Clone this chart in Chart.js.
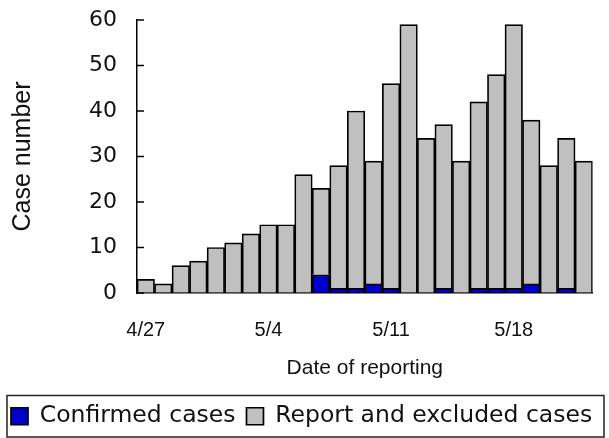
<!DOCTYPE html>
<html>
<head>
<meta charset="utf-8">
<script src="https://cdn.jsdelivr.net/npm/chart.js@4"></script>
<style>
  html, body { margin: 0; padding: 0; background: #fff; }
  #wrap { width: 609px; height: 438px; }
</style>
</head>
<body>
<div id="wrap"><canvas id="c" width="609" height="438"></canvas></div>
<script>
const categories = ["4/27","4/28","4/29","4/30","5/1","5/2","5/3","5/4","5/5","5/6","5/7","5/8","5/9","5/10",
  "5/11","5/12","5/13","5/14","5/15","5/16","5/17","5/18","5/19","5/20","5/21","5/22"];
const confirmed = [0,0,0,0,0,0,0,0,0,0,4,1,1,2,1,0,0,1,0,1,1,1,2,0,1,0];
const excluded  = [3,2,6,7,10,11,13,15,15,26,19,27,39,27,45,59,34,36,29,41,47,58,36,28,33,29];
const tickLabels = ["4/27","5/4","5/11","5/18"];
const yTicks = [0,10,20,30,40,50,60];

const innerTicks = {
  id: 'innerTicks',
  afterDraw(chart) {
    const ctx = chart.ctx, y = chart.scales.y, a = chart.chartArea;
    ctx.save();
    ctx.strokeStyle = '#000';
    ctx.lineWidth = 1.5;
    y.ticks.forEach(t => {
      const py = y.getPixelForValue(t.value);
      ctx.beginPath();
      ctx.moveTo(a.left, py);
      ctx.lineTo(a.left + 7, py);
      ctx.stroke();
    });
    ctx.lineWidth = 1.5;
    ctx.strokeStyle = '#222';
    ctx.strokeRect(7, 395.5, 597, 41.5);
    ctx.restore();
  }
};

new Chart(document.getElementById('c'), {
  type: 'bar',
  data: {
    labels: categories,
    datasets: [
      { label: 'Confirmed cases', data: confirmed, backgroundColor: '#0000CC', borderColor: '#000', borderWidth: 1.7 },
      { label: 'Report and excluded cases', data: excluded, backgroundColor: '#C0C0C0', borderColor: '#000', borderWidth: 1.7 }
    ]
  },
  options: {
    responsive: false,
    animation: false,
    devicePixelRatio: 1,
    layout: { padding: { top: 20, right: 0, bottom: 0, left: 0 } },
    plugins: {
      tooltip: { enabled: false },
      legend: {
        position: 'bottom',
        align: 'start',
        labels: {
          font: { family: 'DejaVu Sans', size: 23.5 },
          color: '#111',
          boxWidth: 17,
          boxHeight: 17,
          padding: 11
        }
      }
    },
    datasets: { bar: { barPercentage: 1, categoryPercentage: 1 } },
    scales: {
      x: {
        stacked: true,
        grid: { display: false, drawTicks: false },
        border: { display: true, color: '#000', width: 1.5 },
        ticks: {
          autoSkip: false, maxRotation: 0, minRotation: 0,
          color: '#111',
          font: { family: 'Liberation Sans', size: 20 },
          padding: 25,
          callback: function(v, i) { const l = categories[i]; return tickLabels.includes(l) ? l : ''; }
        },
        title: { display: true, text: 'Date of reporting', color: '#111',
          font: { family: 'Liberation Sans', size: 21 }, padding: { top: 12.5, bottom: 12.5 } },
        afterFit(s) { s.height = 100.5; }
      },
      y: {
        stacked: true,
        min: 0, max: 60,
        grid: { display: true, drawOnChartArea: false, drawTicks: true, tickLength: 18,
                color: 'rgba(0,0,0,0)', tickColor: 'rgba(0,0,0,0)' },
        border: { display: true, color: '#000', width: 1.5 },
        ticks: {
          stepSize: 10,
          color: '#111',
          font: { family: 'DejaVu Sans', size: 22 },
          padding: 2,
          callback: v => yTicks.includes(v) ? String(v) : ''
        },
        title: { display: true, text: 'Case number', color: '#111',
          font: { family: 'Liberation Sans', size: 25 }, padding: { top: 8, bottom: 8 } },
        afterFit(s) { s.width = 137; }
      },
      spacer: {
        type: 'linear',
        position: 'right',
        display: true,
        grid: { display: false, drawTicks: false },
        border: { display: false },
        ticks: { display: false },
        afterFit(s) { s.width = 8; }
      }
    }
  },
  plugins: [innerTicks]
});
</script>
</body>
</html>
